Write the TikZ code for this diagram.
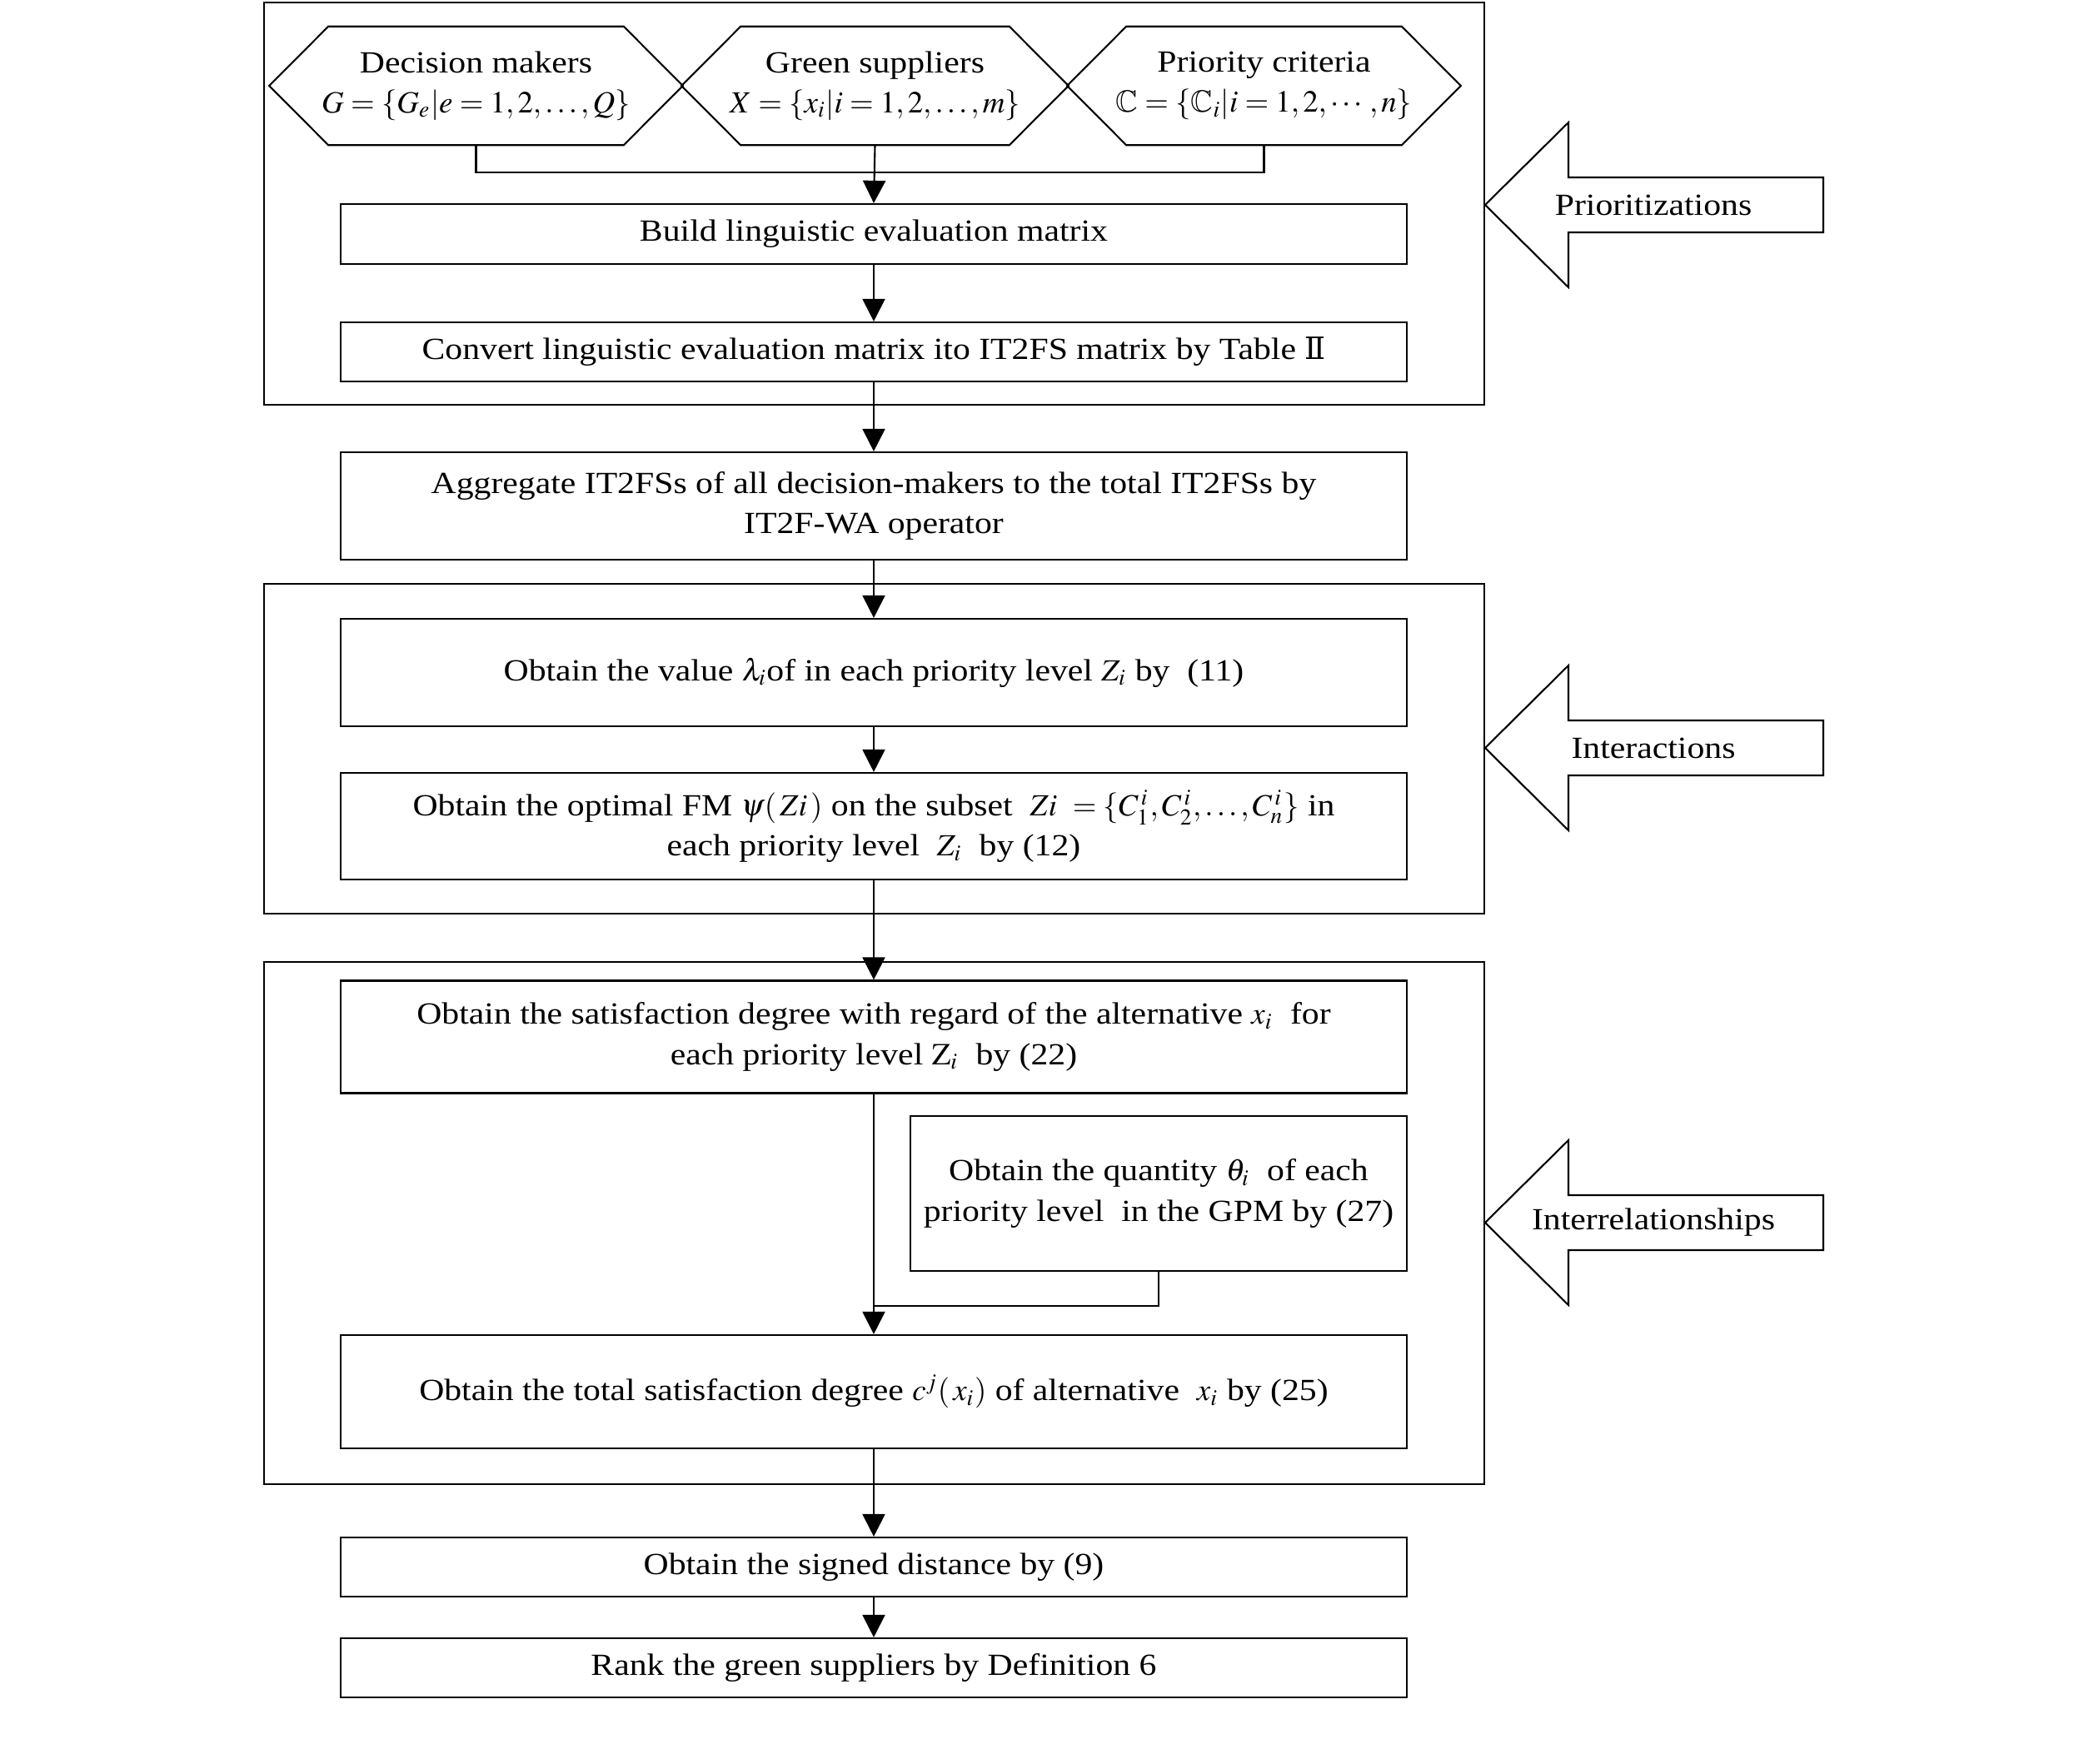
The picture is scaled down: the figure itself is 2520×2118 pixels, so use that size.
\documentclass[tikz,border=0pt]{standalone}
\usepackage{amsmath,amssymb}
\usepackage{mathptmx}
\usepackage{fontspec}
\setmainfont{Liberation Serif}[FakeStretch=1.13]
\newfontfamily\numfont{DejaVu Serif}
\usetikzlibrary{arrows.meta}

\begin{document}
\begin{tikzpicture}[x=0.01cm, y=-0.01cm, font=\fontsize{10.5}{13.7}\selectfont,
  box/.style={draw, line width=0.6pt, align=center, inner sep=0pt, minimum width=12.8cm},
  hexa/.style={minimum height=1.41cm, align=center, inner sep=0pt},
  flow/.style={-{Triangle[length=0.27cm,width=0.27cm]}, line width=0.6pt},
  frame/.style={line width=0.6pt}]
\useasboundingbox (0,0) rectangle (2520,2118);

% input hexagons
\node[hexa, minimum width=4.95cm] (dm) at (571.5,103) {Decision makers\\ $G=\{G_e|e=1,2,\ldots,Q\}$};
\node[hexa, minimum width=4.63cm] (gs) at (1050.5,103) {Green suppliers\\ $X=\{x_i|i=1,2,\ldots,m\}$};
\node[hexa, minimum width=4.71cm] (pc) at (1517.5,103) {Priority criteria\\ $\mathbb{C}=\{\mathbb{C}_i|i=1,2,\cdots,n\}$};
\foreach \h in {dm,gs,pc}
  \draw[frame] (\h.west) -- ([xshift=0.71cm]\h.north west) -- ([xshift=-0.71cm]\h.north east)
    -- (\h.east) -- ([xshift=-0.71cm]\h.south east) -- ([xshift=0.71cm]\h.south west) -- cycle;

% steps
\node[box, minimum height=0.72cm] (build) at (1049,281) {Build linguistic evaluation matrix};
\node[box, minimum height=0.71cm] (conv) at (1049,422.5) {Convert linguistic evaluation matrix ito IT2FS matrix by Table {\numfont Ⅱ}};
\node[box, minimum height=1.29cm] (aggr) at (1049,607.5) {Aggregate IT2FSs of all decision-makers to the total IT2FSs by\\ IT2F-WA operator};
\node[box, minimum height=1.29cm] (lam) at (1049,807.5) {Obtain the value $\lambda_i$of in each priority level $Z_i$ by~ (11)};
\node[box, minimum height=1.28cm] (fm) at (1049,992) {Obtain the optimal FM $\psi(\,Zi\,)$ on the subset ~$Zi~=\{C_1^{\,i},C_2^{\,i},\ldots,C_n^{\,i}\}$ in\\ each priority level ~$Z_i$~ by (12)};
\node[box, minimum height=1.35cm] (sat) at (1049,1245) {Obtain the satisfaction degree with regard of the alternative $x_i$~ for\\ each priority level $\mathrm{Z}_i$~ by (22)};
\node[box, minimum width=5.96cm, minimum height=1.86cm] (qty) at (1391,1433) {Obtain the quantity $\theta_i$~ of each\\ priority level~ in the GPM by (27)};
\node[box, minimum height=1.36cm] (tot) at (1049,1671) {Obtain the total satisfaction degree $c^j(\,x_i)$ of alternative~ $x_i$ by (25)};
\node[box, minimum height=0.71cm] (sd) at (1049,1881.5) {Obtain the signed distance by (9)};
\node[box, minimum height=0.71cm] (rank) at (1049,2002.5) {Rank the green suppliers by Definition 6};

% connectors
\coordinate (hj) at (1049,207);
\coordinate (qj) at (1049,1568);
\draw[frame] (dm.south) |- (hj) -| (pc.south);
\draw[flow] (gs.south) -- (build.north);
\draw[flow] (build) -- (conv);
\draw[flow] (conv) -- (aggr);
\draw[flow] (aggr) -- (lam);
\draw[flow] (lam) -- (fm);
\draw[flow] (fm) -- (sat);
\draw[flow] (sat) -- (tot);
\draw[frame] (qty.south) |- (qj);
\draw[flow] (tot) -- (sd);
\draw[flow] (sd) -- (rank);

% group frames
\draw[frame] (317,3) rectangle (1782,486);
\draw[frame] (317,701) rectangle (1782,1097);
\draw[frame] (317,1155) rectangle (1782,1782);

% side arrows
\node (prio) at (1985,246) {Prioritizations};
\draw[frame] (1783,246) -- (1883,147) -- (1883,213) -- (2189,213) -- (2189,279) -- (1883,279) -- (1883,345) -- cycle;
\node (inter) at (1985,898) {Interactions};
\draw[frame] (1783,898) -- (1883,799) -- (1883,865) -- (2189,865) -- (2189,931) -- (1883,931) -- (1883,997) -- cycle;
\node (irel) at (1985,1468) {Interrelationships};
\draw[frame] (1783,1468) -- (1883,1369) -- (1883,1435) -- (2189,1435) -- (2189,1501) -- (1883,1501) -- (1883,1567) -- cycle;
\end{tikzpicture}
\end{document}
